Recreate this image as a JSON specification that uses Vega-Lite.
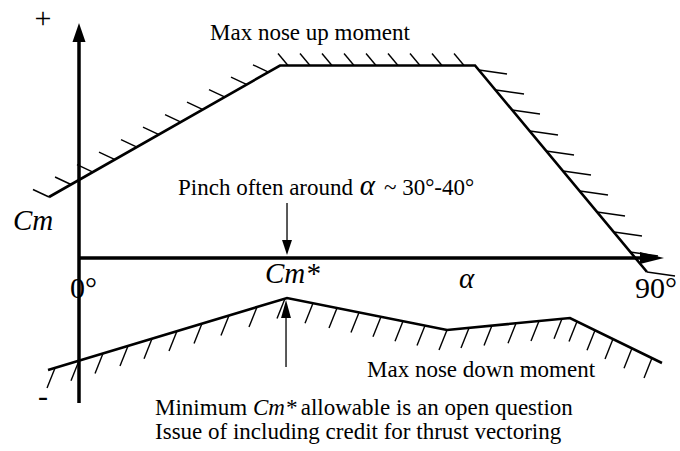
{
  "$schema": "https://vega.github.io/schema/vega-lite/v6.json",
  "width": 680,
  "height": 451,
  "autosize": {"type": "fit", "contains": "padding"},
  "padding": 0,
  "background": "white",
  "config": {"view": {"stroke": null}},
  "datasets": {
    "upper": [
      {"i": 0, "a": -4.83, "cm": 0.61},
      {"i": 1, "a": 32.36, "cm": 1.925},
      {"i": 2, "a": 63.76, "cm": 1.925},
      {"i": 3, "a": 91.45, "cm": -0.14}
    ],
    "lower": [
      {"i": 0, "a": -4.99, "cm": -1.12},
      {"i": 1, "a": 33.49, "cm": -0.40},
      {"i": 2, "a": 59.25, "cm": -0.72},
      {"i": 3, "a": 79.05, "cm": -0.60},
      {"i": 4, "a": 93.86, "cm": -1.05}
    ],
    "hatch": [
      {"a": -4.83, "cm": 0.61, "a2": -7.41, "cm2": 0.685},
      {"a": -1.29, "cm": 0.735, "a2": -3.86, "cm2": 0.81},
      {"a": 2.25, "cm": 0.859, "a2": -0.32, "cm2": 0.934},
      {"a": 5.80, "cm": 0.984, "a2": 3.22, "cm2": 1.059},
      {"a": 9.34, "cm": 1.109, "a2": 6.76, "cm2": 1.184},
      {"a": 12.88, "cm": 1.234, "a2": 10.30, "cm2": 1.309},
      {"a": 16.42, "cm": 1.358, "a2": 13.85, "cm2": 1.433},
      {"a": 19.96, "cm": 1.483, "a2": 17.39, "cm2": 1.558},
      {"a": 23.51, "cm": 1.608, "a2": 20.93, "cm2": 1.683},
      {"a": 27.05, "cm": 1.733, "a2": 24.47, "cm2": 1.808},
      {"a": 30.59, "cm": 1.857, "a2": 28.01, "cm2": 1.932},
      {"a": 33.65, "cm": 1.925, "a2": 32.04, "cm2": 2.045},
      {"a": 37.19, "cm": 1.925, "a2": 35.58, "cm2": 2.045},
      {"a": 40.73, "cm": 1.925, "a2": 39.12, "cm2": 2.045},
      {"a": 44.28, "cm": 1.925, "a2": 42.67, "cm2": 2.045},
      {"a": 47.82, "cm": 1.925, "a2": 46.21, "cm2": 2.045},
      {"a": 51.36, "cm": 1.925, "a2": 49.75, "cm2": 2.045},
      {"a": 54.90, "cm": 1.925, "a2": 53.29, "cm2": 2.045},
      {"a": 58.44, "cm": 1.925, "a2": 56.83, "cm2": 2.045},
      {"a": 61.99, "cm": 1.925, "a2": 60.38, "cm2": 2.045},
      {"a": 64.40, "cm": 1.88, "a2": 68.91, "cm2": 1.84},
      {"a": 67.14, "cm": 1.68, "a2": 71.65, "cm2": 1.64},
      {"a": 69.71, "cm": 1.48, "a2": 74.22, "cm2": 1.44},
      {"a": 72.61, "cm": 1.27, "a2": 77.12, "cm2": 1.23},
      {"a": 75.19, "cm": 1.07, "a2": 79.70, "cm2": 1.03},
      {"a": 77.92, "cm": 0.87, "a2": 82.43, "cm2": 0.83},
      {"a": 80.66, "cm": 0.67, "a2": 85.17, "cm2": 0.63},
      {"a": 83.40, "cm": 0.46, "a2": 87.91, "cm2": 0.42},
      {"a": 86.14, "cm": 0.26, "a2": 90.64, "cm2": 0.22},
      {"a": 88.71, "cm": 0.06, "a2": 93.22, "cm2": 0.02},
      {"a": 91.45, "cm": -0.14, "a2": 95.96, "cm2": -0.18},
      {"a": -3.86, "cm": -1.099, "a2": -5.15, "cm2": -1.299},
      {"a": 0, "cm": -1.027, "a2": -1.29, "cm2": -1.227},
      {"a": 3.86, "cm": -0.954, "a2": 2.58, "cm2": -1.154},
      {"a": 7.89, "cm": -0.879, "a2": 6.60, "cm2": -1.079},
      {"a": 11.75, "cm": -0.807, "a2": 10.47, "cm2": -1.007},
      {"a": 15.78, "cm": -0.731, "a2": 14.49, "cm2": -0.931},
      {"a": 19.80, "cm": -0.656, "a2": 18.52, "cm2": -0.856},
      {"a": 24.15, "cm": -0.575, "a2": 22.86, "cm2": -0.775},
      {"a": 28.66, "cm": -0.49, "a2": 27.37, "cm2": -0.69},
      {"a": 33.17, "cm": -0.406, "a2": 31.88, "cm2": -0.606},
      {"a": 37.67, "cm": -0.452, "a2": 36.39, "cm2": -0.652},
      {"a": 41.54, "cm": -0.50, "a2": 40.25, "cm2": -0.70},
      {"a": 45.08, "cm": -0.544, "a2": 43.79, "cm2": -0.744},
      {"a": 48.62, "cm": -0.588, "a2": 47.33, "cm2": -0.788},
      {"a": 52.16, "cm": -0.632, "a2": 50.88, "cm2": -0.832},
      {"a": 55.71, "cm": -0.676, "a2": 54.42, "cm2": -0.876},
      {"a": 59.25, "cm": -0.72, "a2": 57.96, "cm2": -0.92},
      {"a": 62.79, "cm": -0.699, "a2": 61.50, "cm2": -0.899},
      {"a": 66.49, "cm": -0.676, "a2": 65.21, "cm2": -0.876},
      {"a": 70.36, "cm": -0.653, "a2": 69.07, "cm2": -0.853},
      {"a": 74.06, "cm": -0.63, "a2": 72.77, "cm2": -0.83},
      {"a": 77.76, "cm": -0.608, "a2": 76.48, "cm2": -0.808},
      {"a": 80.18, "cm": -0.634, "a2": 78.89, "cm2": -0.834},
      {"a": 83.08, "cm": -0.722, "a2": 81.79, "cm2": -0.922},
      {"a": 85.97, "cm": -0.81, "a2": 84.69, "cm2": -1.01},
      {"a": 89.03, "cm": -0.903, "a2": 87.75, "cm2": -1.103},
      {"a": 92.25, "cm": -1.001, "a2": 90.97, "cm2": -1.201}
    ],
    "axes": [
      {"a": 0, "cm": 2.16, "a2": 0, "cm2": -1.45},
      {"a": 0, "cm": 0, "a2": 90.32, "cm2": 0}
    ],
    "pointers": [
      {"a": 33.49, "cm": 0.55, "a2": 33.49, "cm2": 0.16},
      {"a": 33.33, "cm": -1.09, "a2": 33.33, "cm2": -0.60}
    ],
    "headUp": [{"a": 0, "cm": 2.26}],
    "headRight": [{"a": 92.25, "cm": 0}],
    "headDown": [{"a": 33.49, "cm": 0.105}],
    "headUpSmall": [{"a": 33.33, "cm": -0.51}],
    "bigRoman": [
      {"t": "0°", "a": -1.45, "cm": -0.40},
      {"t": "90°", "a": 89.52, "cm": -0.40}
    ],
    "signs": [
      {"t": "+", "a": -5.80, "cm": 2.30},
      {"t": "-", "a": -5.80, "cm": -1.48}
    ],
    "bigItalic": [
      {"t": "Cm", "a": -10.63, "cm": 0.28},
      {"t": "Cm*", "a": 29.95, "cm": -0.25},
      {"t": "α", "a": 61.18, "cm": -0.30},
      {"t": "α", "a": 45.20, "cm": 0.63}
    ],
    "midRoman": [
      {"t": "Max nose up moment", "a": 21.09, "cm": 2.18},
      {"t": "Pinch often around", "a": 15.94, "cm": 0.63},
      {"t": "~ 30°-40°", "a": 49.10, "cm": 0.63},
      {"t": "Max nose down moment", "a": 46.37, "cm": -1.19},
      {"t": "Minimum", "a": 12.24, "cm": -1.565},
      {"t": "allowable is an open question", "a": 35.70, "cm": -1.565},
      {"t": "Issue of including credit for thrust vectoring", "a": 12.24, "cm": -1.81}
    ],
    "midItalic": [
      {"t": "Cm*", "a": 28.01, "cm": -1.565}
    ]
  },
  "layer": [
    {
      "data": {"name": "axes"},
      "mark": {"type": "rule", "color": "black", "strokeWidth": 3.5},
      "encoding": {
        "x": {"field": "a", "type": "quantitative", "scale": {"domain": [-12.719, 96.761], "nice": false, "zero": false}, "axis": null},
        "y": {"field": "cm", "type": "quantitative", "scale": {"domain": [-1.93, 2.58], "nice": false, "zero": false}, "axis": null},
        "x2": {"field": "a2"},
        "y2": {"field": "cm2"}
      }
    },
    {
      "data": {"name": "hatch"},
      "mark": {"type": "rule", "color": "black", "strokeWidth": 1.4},
      "encoding": {
        "x": {"field": "a", "type": "quantitative", "axis": null},
        "y": {"field": "cm", "type": "quantitative", "axis": null},
        "x2": {"field": "a2"},
        "y2": {"field": "cm2"}
      }
    },
    {
      "data": {"name": "pointers"},
      "mark": {"type": "rule", "color": "black", "strokeWidth": 1.3},
      "encoding": {
        "x": {"field": "a", "type": "quantitative", "axis": null},
        "y": {"field": "cm", "type": "quantitative", "axis": null},
        "x2": {"field": "a2"},
        "y2": {"field": "cm2"}
      }
    },
    {
      "data": {"name": "upper"},
      "mark": {"type": "line", "color": "black", "strokeWidth": 2.6, "strokeJoin": "miter"},
      "encoding": {
        "x": {"field": "a", "type": "quantitative", "axis": null},
        "y": {"field": "cm", "type": "quantitative", "axis": null},
        "order": {"field": "i", "type": "quantitative"}
      }
    },
    {
      "data": {"name": "lower"},
      "mark": {"type": "line", "color": "black", "strokeWidth": 2.6, "strokeJoin": "miter"},
      "encoding": {
        "x": {"field": "a", "type": "quantitative", "axis": null},
        "y": {"field": "cm", "type": "quantitative", "axis": null},
        "order": {"field": "i", "type": "quantitative"}
      }
    },
    {
      "data": {"name": "headUp"},
      "mark": {"type": "point", "filled": true, "opacity": 1, "color": "black", "size": 400, "shape": "M0,-0.9L0.65,1L-0.65,1Z"},
      "encoding": {
        "x": {"field": "a", "type": "quantitative", "axis": null},
        "y": {"field": "cm", "type": "quantitative", "axis": null}
      }
    },
    {
      "data": {"name": "headRight"},
      "mark": {"type": "point", "filled": true, "opacity": 1, "color": "black", "size": 576, "shape": "M1,0L-1,-0.5L-1,0.5Z"},
      "encoding": {
        "x": {"field": "a", "type": "quantitative", "axis": null},
        "y": {"field": "cm", "type": "quantitative", "axis": null}
      }
    },
    {
      "data": {"name": "headDown"},
      "mark": {"type": "point", "filled": true, "opacity": 1, "color": "black", "size": 256, "shape": "M0,0.94L-0.62,-0.94L0.62,-0.94Z"},
      "encoding": {
        "x": {"field": "a", "type": "quantitative", "axis": null},
        "y": {"field": "cm", "type": "quantitative", "axis": null}
      }
    },
    {
      "data": {"name": "headUpSmall"},
      "mark": {"type": "point", "filled": true, "opacity": 1, "color": "black", "size": 324, "shape": "M0,-1L0.55,1L-0.55,1Z"},
      "encoding": {
        "x": {"field": "a", "type": "quantitative", "axis": null},
        "y": {"field": "cm", "type": "quantitative", "axis": null}
      }
    },
    {
      "data": {"name": "bigRoman"},
      "mark": {"type": "text", "font": "Liberation Serif", "fontSize": 30, "align": "left", "baseline": "alphabetic", "color": "black"},
      "encoding": {
        "x": {"field": "a", "type": "quantitative", "axis": null},
        "y": {"field": "cm", "type": "quantitative", "axis": null},
        "text": {"field": "t"}
      }
    },
    {
      "data": {"name": "signs"},
      "mark": {"type": "text", "font": "Liberation Serif", "fontSize": 30, "align": "center", "baseline": "alphabetic", "color": "black"},
      "encoding": {
        "x": {"field": "a", "type": "quantitative", "axis": null},
        "y": {"field": "cm", "type": "quantitative", "axis": null},
        "text": {"field": "t"}
      }
    },
    {
      "data": {"name": "bigItalic"},
      "mark": {"type": "text", "font": "Liberation Serif", "fontStyle": "italic", "fontSize": 29, "align": "left", "baseline": "alphabetic", "color": "black"},
      "encoding": {
        "x": {"field": "a", "type": "quantitative", "axis": null},
        "y": {"field": "cm", "type": "quantitative", "axis": null},
        "text": {"field": "t"}
      }
    },
    {
      "data": {"name": "midRoman"},
      "mark": {"type": "text", "font": "Liberation Serif", "fontSize": 23, "align": "left", "baseline": "alphabetic", "color": "black"},
      "encoding": {
        "x": {"field": "a", "type": "quantitative", "axis": null},
        "y": {"field": "cm", "type": "quantitative", "axis": null},
        "text": {"field": "t"}
      }
    },
    {
      "data": {"name": "midItalic"},
      "mark": {"type": "text", "font": "Liberation Serif", "fontStyle": "italic", "fontSize": 23, "align": "left", "baseline": "alphabetic", "color": "black"},
      "encoding": {
        "x": {"field": "a", "type": "quantitative", "axis": null},
        "y": {"field": "cm", "type": "quantitative", "axis": null},
        "text": {"field": "t"}
      }
    }
  ]
}
